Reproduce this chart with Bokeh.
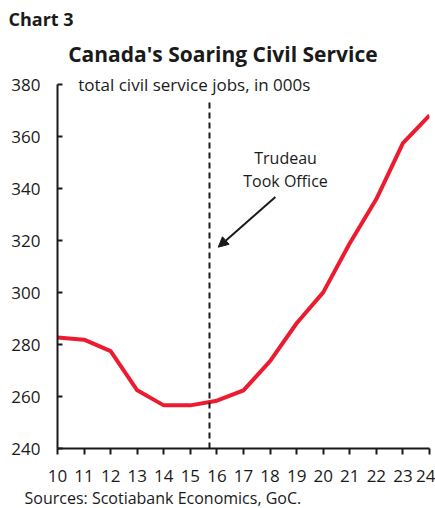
from bokeh.plotting import figure
from bokeh.models import Label, Arrow, NormalHead, FixedTicker, Title
from bokeh.embed import file_html
from bokeh.resources import INLINE

years = [10, 11, 12, 13, 14, 15, 16, 17, 18, 19, 20, 21, 22, 23, 24]
jobs = [282.7, 281.9, 277.5, 262.4, 256.6, 256.6, 258.4, 262.4, 273.6, 288.2, 300.1, 319.0, 336.0, 357.5, 368.2]
x_ticks = list(range(10, 25))
y_ticks = [240, 260, 280, 300, 320, 340, 360, 380]
trudeau_x = 15.72
trudeau_line = (240, 373.6)

FONT = "Open Sans"
TXT = "#1a1a1a"
RED = "#ed1b2f"

F = 30  # frame top in px (min_border_top)
PX_PER_UNIT = 2.6
Y_TOP = 240 + (448.3 - F) / PX_PER_UNIT

p = figure(width=435, height=508, output_backend="svg", toolbar_location=None,
           x_range=(10, 24), y_range=(240, Y_TOP), title=None,
           min_border_left=57, min_border_right=6, min_border_top=F, min_border_bottom=0)
p.outline_line_color = None
p.xgrid.grid_line_color = None
p.ygrid.grid_line_color = None
p.background_fill_color = "white"
p.border_fill_color = "white"

p.xaxis.ticker = FixedTicker(ticks=x_ticks)
p.yaxis.ticker = FixedTicker(ticks=y_ticks)
p.yaxis.bounds = (240, 380)
for ax in (p.xaxis, p.yaxis):
    ax.axis_line_width = 2
    ax.axis_line_color = TXT
    ax.major_tick_line_width = 2
    ax.major_tick_line_color = TXT
    ax.minor_tick_line_color = None
    ax.major_label_text_font = FONT
    ax.major_label_text_font_size = "17px"
    ax.major_label_text_color = TXT
p.xaxis.major_tick_in = 0
p.xaxis.major_tick_out = 6
p.xaxis.major_label_standoff = 15
p.yaxis.major_tick_in = 5
p.yaxis.major_tick_out = 0
p.yaxis.major_label_standoff = 17

p.line(years, jobs, line_color=RED, line_width=4)

p.segment(x0=[trudeau_x], y0=[trudeau_line[0]], x1=[trudeau_x], y1=[trudeau_line[1]],
          line_color=TXT, line_width=2, line_dash="6 4")

p.add_layout(Arrow(end=NormalHead(size=10, fill_color=TXT, line_color=TXT),
                   x_start=18.2, y_start=336.8, x_end=16.05, y_end=317.5,
                   line_color=TXT, line_width=2))

def lab(x, y, text, size, align="left", baseline="middle", bold=False):
    p.add_layout(Label(x=x, y=y, text=text, text_font=FONT, text_font_size=size,
                       text_color=TXT, text_align=align, text_baseline=baseline,
                       text_font_style="bold" if bold else "normal"))

def dx(px):
    return 10 + (px - 57.3) / 26.53

def dy(py):
    return 240 + (448.3 - py) / PX_PER_UNIT

lab(dx(285), dy(158), "Trudeau", "16px", align="center")
lab(dx(285), dy(181), "Took Office", "16px", align="center")
lab(dx(78), dy(84.5), "total civil service jobs, in 000s", "17px")
lab(dx(68), dy(53.5), "Canada's Soaring Civil Service", "21px", bold=True)

chart_no = Title(text="Chart 3", align="left", offset=8 - 57,
                 text_font=FONT, text_font_size="18px", text_font_style="bold",
                 text_color=TXT, standoff=0, text_line_height=1.0)
p.add_layout(chart_no, "above")

source = Title(text="Sources: Scotiabank Economics, GoC.", align="left", offset=24 - 57,
               text_font=FONT, text_font_size="16px", text_font_style="normal",
               text_color=TXT, standoff=0)
p.add_layout(source, "below")

open("out.html", "w").write(file_html(p, INLINE))
